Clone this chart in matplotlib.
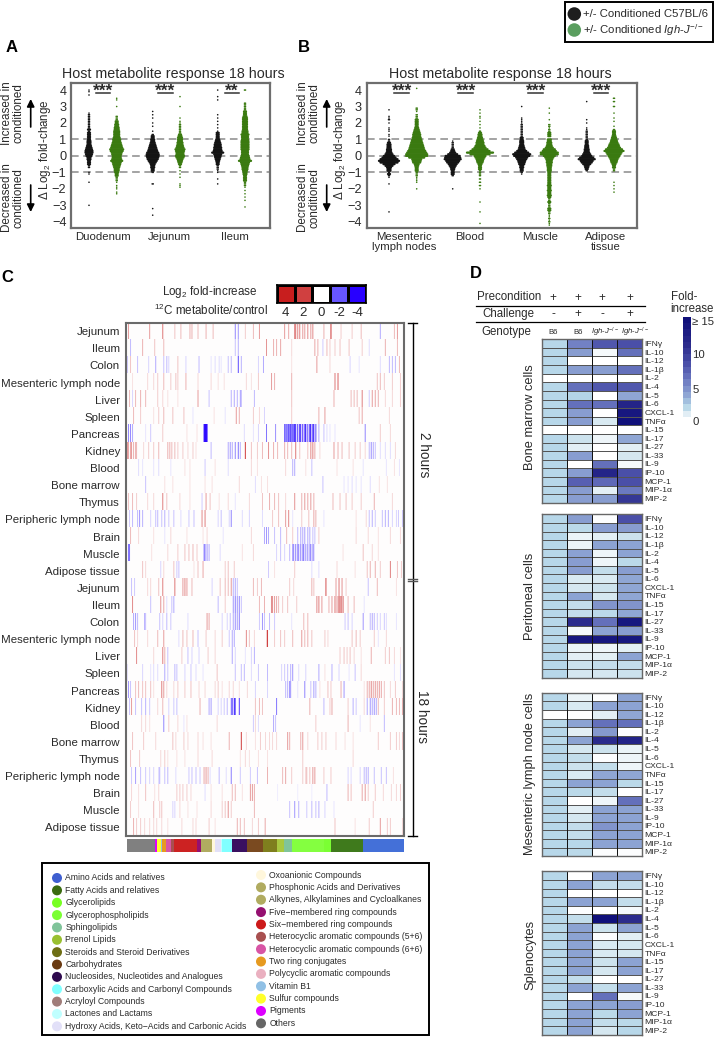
import numpy as np
import matplotlib
matplotlib.use("Agg")
import matplotlib.pyplot as plt
from matplotlib.colors import LinearSegmentedColormap, ListedColormap
from matplotlib.patches import Rectangle

plt.rcParams['font.family'] = ['Liberation Sans', 'DejaVu Sans']
plt.rcParams['mathtext.fontset'] = 'custom'
plt.rcParams['mathtext.rm'] = 'Liberation Sans'
plt.rcParams['mathtext.it'] = 'Liberation Sans:italic'
plt.rcParams['mathtext.bf'] = 'Liberation Sans:bold'
plt.rcParams['mathtext.default'] = 'regular'
plt.rcParams['axes.unicode_minus'] = True

W, H = 715, 1037
TXT = '#2a2a2a'

# ---- panels A and B: swarm rows, {log2 change: dots across} ----
duo_b6 = {4.0:1,3.9:1,3.7:1,2.6:1,2.5:2,2.4:2,2.3:2,2.2:2,2.1:2,2.0:2,1.9:2,1.8:2,1.7:2,1.6:3,1.5:2,1.4:3,1.3:3,1.2:3,1.1:3,1.0:3,.9:4,.8:4,.7:4,.6:5,.5:6,.4:7,.3:8,.2:8,.1:7,0:6,-.1:4,-.2:4,-.3:3,-.4:3,-.5:3,-.6:2,-.7:2,-1:1,-1.1:1,-1.6:1,-3:1}
duo_ko = {3.5:1,3.4:1,3.0:1,2.4:2,2.3:2,2.2:2,2.1:3,2.0:3,1.9:4,1.8:4,1.7:5,1.6:5,1.5:6,1.4:6,1.3:6,1.2:6,1.1:7,1.0:8,.9:8,.8:9,.7:10,.6:11,.5:12,.4:14,.3:13,.2:11,.1:10,0:9,-.1:9,-.2:10,-.3:12,-.4:9,-.5:8,-.6:7,-.7:6,-.8:5,-.9:5,-1:4,-1.1:3,-1.2:3,-1.3:2,-1.4:2,-1.5:2,-1.6:1,-1.8:1,-1.9:1,-2.0:1,-2.2:1,-2.3:1}
jej_b6 = {2.7:1,2.5:1,2.3:1,2.0:1,1.8:1,1.5:1,1.3:2,1.2:3,1.1:3,1:4,.9:4,.8:5,.7:6,.6:7,.5:8,.4:9,.3:10,.2:12,.1:13,0:13,-.1:12,-.2:11,-.3:9,-.4:7,-.5:5,-.6:4,-.7:4,-.8:3,-.9:3,-1:2,-1.7:2,-3.2:1,-3.6:1}
jej_ko = {3.6:1,3.0:1,2.3:1,2.1:1,2.0:1,1.9:2,1.8:2,1.7:2,1.6:2,1.5:2,1.4:2,1.3:3,1.2:4,1.1:5,1:5,.9:5,.8:6,.7:6,.6:7,.5:8,.4:10,.3:9,.2:8,.1:8,0:9,-.1:8,-.2:6,-.3:5,-.4:4,-.5:3,-.6:2,-.7:2,-.9:1,-1.1:1,-1.3:1,-1.7:1,-1.8:1,-1.9:1}
ile_b6 = {4.0:1,3.6:1,3.4:1,2.5:1,2.3:1,2.1:1,1.9:1,1.7:1,1.5:1,1.4:3,1.3:3,1.2:3,1.1:3,1:4,.9:5,.8:6,.7:7,.6:7,.5:8,.4:8,.3:9,.2:12,.1:8,0:7,-.1:6,-.2:5,-.3:4,-.4:3,-.5:3,-.6:2,-.7:2,-.8:2,-.9:1,-1:1,-1.4:1,-1.7:1}
ile_ko = {4:2,3.2:2,3.1:2,3:2,2.9:2,2.8:2,2.7:3,2.6:3,2.5:3,2.4:4,2.3:5,2.2:5,2.1:5,2:5,1.9:5,1.8:5,1.7:5,1.6:5,1.5:6,1.4:6,1.3:8,1.2:7,1.1:7,1:7,.9:8,.8:8,.7:8,.6:8,.5:8,.4:8,.3:7,.2:7,.1:7,0:8,-.1:9,-.2:10,-.3:13,-.4:9,-.5:8,-.6:7,-.7:6,-.8:6,-.9:5,-1:4,-1.1:4,-1.2:3,-1.3:3,-1.4:3,-1.5:3,-1.6:2,-1.7:2,-1.8:2,-1.9:1,-2.1:1,-2.3:1,-2.5:1,-2.7:1,-3.1:1}

mln_b6 = {2.8:1,2.4:1,2.3:1,2.2:2,2.0:1,1.7:1,1.6:1,1.5:1,1.3:1,1.2:1,1:2,.9:2,.8:3,.7:4,.6:4,.5:4,.4:5,.3:5,.2:6,.1:8,0:11,-.1:14,-.2:18,-.3:21,-.4:18,-.5:12,-.6:8,-.7:5,-.8:4,-.9:4,-1:2,-1.1:3,-1.2:2,-1.3:1,-1.7:1,-3.4:1}
mln_ko = {4.1:1,2.9:2,2.8:2,2.7:1,2.5:2,2.4:2,2.3:2,2.2:3,2.1:3,2.0:3,1.9:3,1.8:3,1.7:4,1.6:5,1.5:6,1.4:7,1.3:8,1.2:8,1.1:9,1:10,.9:11,.8:12,.7:13,.6:14,.5:15,.4:16,.3:18,.2:20,.1:22,0:22,-.1:16,-.2:10,-.3:9,-.4:8,-.5:5,-.6:4,-.7:3,-.8:3,-.9:3,-1:2,-1.1:2,-1.2:2,-1.3:1,-1.4:1,-1.5:1,-1.6:1,-2:1}
blood_b6 = {.9:1,.8:2,.7:2,.6:2,.5:2,.4:3,.3:4,.2:6,.1:10,0:15,-.1:16,-.2:17,-.3:14,-.4:12,-.5:9,-.6:7,-.7:5,-.8:4,-.9:3,-1:3,-1.1:3,-1.2:2,-2:1}
blood_ko = {2.8:1,2.6:1,2.4:1,2.3:1,2.1:1,1.9:1,1.7:1,1.5:2,1.4:3,1.3:4,1.2:4,1.1:5,1:6,.9:7,.8:8,.7:8,.6:10,.5:12,.4:16,.3:20,.2:27,.1:20,0:12,-.1:10,-.2:8,-.3:7,-.4:6,-.5:4,-.6:3,-.7:3,-.8:3,-.9:2,-1:2,-1.1:2,-1.2:2,-1.4:2,-1.6:2,-1.8:2,-2:1,-2.8:1,-3.4:1,-4.1:1}
musc_b6 = {3:1,2.3:1,2.2:1,2.1:1,2:1,1.9:2,1.8:2,1.7:2,1.6:2,1.5:2,1.4:2,1.3:2,1.2:2,1.1:3,1:3,.9:4,.8:4,.7:4,.6:5,.5:6,.4:7,.3:10,.2:14,.1:18,0:16,-.1:12,-.2:10,-.3:8,-.4:7,-.5:6,-.6:4,-.7:4,-.8:3,-.9:3,-1:2,-1.1:1}
musc_ko = {2.9:1,2.6:1,2.2:1,1.9:2,1.8:2,1.7:1,1.6:2,1.5:2,1.4:3,1.3:3,1.2:3,1:4,.9:4,.8:5,.7:5,.6:6,.5:8,.4:12,.3:14,.2:18,.1:18,0:12,-.1:9,-.2:7,-.3:6,-.4:6,-.5:5,-.6:5,-.7:4,-.8:4,-.9:4,-1:3,-1.1:3,-1.2:3,-1.3:3,-1.4:3,-1.5:3,-1.6:3,-1.7:3,-1.8:4,-1.9:3,-2:3,-2.1:4,-2.2:3,-2.3:3,-2.4:4,-2.5:3,-2.6:2,-2.7:2,-2.8:3,-2.9:2,-3:2,-3.1:2,-3.2:3,-3.3:3,-3.4:2,-3.5:2,-3.6:1,-3.7:1,-3.8:2,-3.9:1,-4:2,-4.1:1,-4.2:1}
adi_b6 = {3.3:1,2.2:1,2:1,1.7:1,1.6:1,1.5:2,1.4:2,1.3:2,1.2:2,1.1:2,1:2,.9:3,.8:3,.7:3,.6:4,.5:4,.4:5,.3:5,.2:6,.1:8,0:10,-.1:14,-.2:17,-.3:13,-.4:11,-.5:8,-.6:5,-.7:4,-.8:3,-.9:2}
adi_ko = {3.5:2,3.3:2,3:2,2.6:1,2.3:1,2.1:1,1.8:1,1.6:2,1.5:3,1.4:3,1.3:3,1.2:4,1.1:5,1:6,.9:7,.8:8,.7:10,.6:11,.5:13,.4:17,.3:20,.2:16,.1:14,0:12,-.1:10,-.2:8,-.3:7,-.4:6,-.5:4,-.6:3,-.7:3,-.8:2,-.9:2,-1.6:1,-1.8:1,-2:1,-2.2:1}

a_swarms = [duo_b6, duo_ko, jej_b6, jej_ko, ile_b6, ile_ko]
b_swarms = [mln_b6, mln_ko, blood_b6, blood_ko, musc_b6, musc_ko, adi_b6, adi_ko]
a_labels = ['Duodenum', 'Jejunum', 'Ileum']
b_labels = ['Mesenteric\nlymph nodes', 'Blood', 'Muscle', 'Adipose\ntissue']
a_stars = ['***', '***', '**']
b_stars = ['***', '***', '***', '***']

# ---- panel C: metabolite stripes, {column: log2 fold} ----
jejunum_2h = {2:1,23:1,36:1.4,48:.6,54:.7,63:.8,65:.8,71:.7,79:.8,86:.7,108:-1.4,111:-1.2,118:.5,126:.7,132:1,157:1,161:.9,167:1.4,168:1.2,170:1.2,172:1.3,175:1,177:1,180:1.2,183:1,185:1.2,196:.8,203:2.4,213:.5,224:.5,233:.7,252:-1,266:.7,269:1}
ileum_2h = {4:-.8,16:.8,28:.6,37:.7,108:-.7,111:-.9,139:1.1,146:.8,149:.8,153:.9,164:.4,187:.9,190:.8,195:-.6,199:.7,202:.5,207:.5,212:.6,221:.6,234:.5,241:-.4,257:.8,269:.7}
colon_2h = {1:-.6,4:.6,11:-.7,22:-.5,29:-1,37:-.7,40:-.8,42:-.5,51:.6,59:-.5,72:-.8,84:-.3,88:-.4,92:-.4,94:-.3,101:-.7,104:-.8,111:-2.2,114:-.9,131:-.5,136:-1,164:.3,189:1,202:.4,222:-.5,231:-.3,252:-.4,261:-.8,264:-.8,267:-.8,271:.7,276:-.7}
mln_2h = {6:.3,21:.4,27:.4,31:.5,37:.7,44:.5,49:.6,51:.5,59:.8,71:.4,84:.4,91:.3,97:.3,119:.4,124:.3,131:.5,144:1,147:.8,164:.8,207:1.4,210:1.6,249:.6,252:.7,256:.5,264:.5,272:.5}
liver_2h = {3:.7,6:-.5,9:.7,14:.8,19:.7,31:.5,36:.4,41:.3,51:.3,71:1,82:-.7,104:-.9,107:-1,110:-.9,113:-1,114:-.8,127:-.8,164:.6,206:.8,223:.7,226:.7,229:.7,234:1.3,241:-.6,244:1,247:.9,250:.8,257:.4,264:.4,272:.5}
spleen_2h = {7:.7,14:.5,27:.3,32:.5,37:.7,46:.6,57:.6,66:-.3,87:.3,98:-.3,109:1,112:.8,126:.5,132:.4,137:-.5,164:.5,191:.8,197:1,231:.6,234:.9,261:.4}
pancreas_2h = {2:-1.4,4:-1.4,6:-1,19:-.3,24:-.6,36:.5,60:.3,70:.3,77:-3.5,78:-3.8,79:-3.8,80:-3.5,117:-.4,126:-.3,131:-.5,139:-1.6,148:-1.3,157:-2,158:-1.3,159:-1.6,160:-1.3,161:-2.2,162:-1.4,163:-2.5,164:-1.4,165:-1.8,166:-1.6,167:-3,168:-2.2,170:-2.6,172:-3.2,173:-2,175:-3,177:-2.4,178:-3,180:-2.2,182:-3.2,183:-2.6,185:-3,186:-2.4,188:-2.2,191:-1,196:-.7,199:-.4,202:-.3,207:-.3,237:-1.4,252:.5,262:.4}
kidney_2h = {1:1,2:.9,4:.9,5:1,7:.8,9:.8,10:.7,17:.4,22:.5,27:.5,32:.7,41:.8,43:.8,45:.7,48:.7,51:.5,56:.5,61:.4,66:.5,69:.3,84:-.8,101:-1,103:-1.2,105:-1,108:-1.4,111:-1.6,113:-.9,118:2.2,124:.6,130:.5,135:.7,141:1.1,146:.8,150:.7,157:.8,160:.7,164:.7,168:1.4,172:.6,180:.6,183:1.2,185:1.3,187:.9,192:.4,206:1,210:.8,214:.7,221:.6,227:.5,232:.5,237:.4,241:-.8,243:-1.3,245:-1,247:-.7,252:-.4,257:-.4,262:-.4,267:.4}
blood_2h = {12:-.4,16:-.3,27:-.3,32:-.4,44:-.3,58:.3,63:.3,78:-.6,88:.3,101:-.4,124:.4,130:.3,158:.4,165:-.9,167:-1,178:.3,184:-.7,209:.3,225:.3,235:-.3,258:-.3,266:.3,271:-.3}
marrow_2h = {19:-.7,38:.3,46:.3,63:.3,78:.3,85:.3,112:.4,128:-.4,134:.3,140:.3,195:-.7,216:-.3,220:-.3,224:-.4,228:-.3,233:-.3,242:-.4,251:.3,259:.3}
thymus_2h = {2:.6,6:.7,10:.5,21:.4,27:.4,36:1.3,40:.6,53:.4,63:.3,75:-.6,79:1,83:.6,92:.3,101:.4,108:-.3,122:.4,135:.6,142:.8,147:.7,151:.6,158:.4,167:1.1,174:.8,177:1,180:.9,183:1,186:.8,205:.7,212:.6,218:.6,224:.5,233:.5,246:.8,264:.4}
periph_2h = {3:-.6,6:-.8,11:-.8,13:-1.2,16:-.9,24:-.5,29:-.7,31:-.8,35:-.7,38:-.9,42:-.6,47:-.7,54:-.4,62:-.6,67:-.7,75:1.2,78:1.3,91:-.5,94:-.7,102:-.5,104:-1.4,115:-.4,122:-.5,135:-.4,145:.5,151:.6,158:1,161:1.2,165:-.3,174:.5,181:.6,186:.9,188:.8,196:-.3,228:.3,238:.4,241:-.7,244:-.9,247:-.6,254:-.7,257:-.9,260:-.9,264:-.5,268:-.5,270:-.6,274:-.6,276:-.7}
brain_2h = {4:.7,12:.4,27:.3,38:-.3,44:.4,60:.3,76:.3,80:.4,96:-.3,124:.4,137:-1,139:-1.2,141:-1,147:-.7,153:-.8,159:.7,165:.5,170:-.8,173:-1,175:-1,177:-1.1,180:-1,182:-1,185:-.7,187:-.7,191:.5,228:.4,240:.4,250:.3,262:.4,272:.4}
muscle_2h = {2:-1.6,3:-1.6,25:.3,41:.4,51:.5,58:.6,62:.6,66:.7,70:.5,77:-1.4,78:-1.4,80:-1.2,82:-1,93:-.4,115:.3,126:.4,149:-.5,153:-.7,157:-.5,162:-.8,165:-1.2,166:-1.3,168:-1.5,170:-1.4,171:-1.2,173:-1.5,175:-1.3,176:-1.5,178:-1.3,180:-1.4,182:-1.1,183:-1.4,185:-1.2,186:-1,215:.3,235:.6,244:.4,250:.3}
adipose_2h = {16:.6,19:.4,34:-.5,37:.4,47:.6,50:-.6,52:-.7,67:.3,71:.6,76:.9,98:.5,101:.6,107:.5,141:-.6,147:.3,167:.5,184:-.4,191:-.4,209:.4,227:.3,239:.6,242:.8,247:.8,252:.5,262:1.3,269:.6,273:.5}

jejunum_18h = {5:-.7,8:-.6,21:.4,24:.4,32:.6,36:1.3,48:1.4,56:1,58:1.2,60:1,65:.7,85:-.5,93:.6,98:.7,101:.7,104:1,106:-.9,108:-1,110:-.7,126:.7,130:.5,134:.7,162:.5,166:.4,184:.8,186:.6,198:1.8,208:1,211:1.4,214:1.1,218:.5,240:-.7,249:.7,268:.3}
ileum_18h = {6:1.2,24:-.7,34:1.1,37:.9,40:-.4,45:-.7,47:-1,91:-.8,98:.5,106:-1.2,108:-1.5,110:-1.2,112:-1.4,114:-.7,132:.7,137:.8,144:1.2,145:1.1,147:1,149:.9,151:.7,155:.5,160:.6,169:.5,189:1.2,191:1.3,194:1,201:.8,204:1,207:1.4,209:1.1,211:2.6,213:2.6,215:1.6,220:.7,226:.7,236:-.3,276:-.5}
colon_18h = {7:-1,9:-1.2,11:-.8,18:-1,19:-.6,33:-.7,36:-.5,40:-.8,44:-.6,61:-.4,80:1,82:.9,95:-.5,100:-.5,103:-.7,106:-1,108:-1.3,110:-1.1,112:-1.5,132:-.6,135:-1.2,137:-.7,142:-.8,147:-.6,164:-.3,176:.7,180:.7,217:-.6,220:-.7,224:-.5,235:-1.2,242:-.8,244:-1,246:-.8,249:-.6,252:-.5,256:-.6,258:-.4,268:-.3}
mln_18h = {8:.6,11:.4,21:.4,31:.7,37:1,52:-.4,56:.7,60:.6,66:.7,71:-.7,79:.5,88:.4,95:.5,102:-.6,105:-1,107:-1,119:1.2,122:.6,127:.4,139:.5,140:2,147:.5,153:.6,157:.5,165:.7,174:1,177:.7,180:.8,184:.6,197:.5,200:.4,224:.6,228:.7,232:.5,246:.5,250:-.3,258:.4}
liver_18h = {10:1.2,27:.4,36:1.3,38:.8,41:-.7,55:.5,61:-.7,65:-.5,72:-.5,81:.5,88:.4,105:-1,108:-.5,118:-.3,124:-.5,127:-.9,212:.5,216:.6,219:.5,222:.6,226:.4,233:.3,243:.8,257:.5,261:.6,266:.4,272:.3}
spleen_18h = {1:-.3,16:-.5,24:-.3,27:-.4,31:-.4,38:-1,41:-.6,48:-.8,50:-.7,58:-.5,64:-.6,69:-.4,76:-.3,90:.6,108:-.7,114:-.7,117:-.8,124:-.4,131:-.6,140:-.8,154:-.5,157:-.6,160:-.7,163:-.9,165:-1.2,171:-.4,178:-.5,191:-1,197:.3,204:-.9,211:-.5,221:-.3,227:-.7,233:.4,266:-.3,272:-.4}
pancreas_18h = {2:-1.2,4:-.7,9:.6,12:.7,16:.6,19:.6,24:.6,27:.3,35:1.3,37:1,40:.4,47:.4,51:.5,58:.5,64:.6,72:.4,78:.4,88:.4,91:.5,95:.3,102:.4,106:.4,112:.3,120:.4,128:-.5,140:-.5,158:-.8,160:-.9,162:-1.4,163:-1,170:-.3,177:-1.4,183:-.7,186:-1.1,188:-.9,192:.3,200:.6,203:.5,213:.8,216:-1.2,236:.3,239:.8,241:.9,243:1.2,245:.9,247:1,249:.9,251:1,253:.9,256:.6,262:.4,267:.5,274:.4}
kidney_18h = {3:-.7,5:1,9:-.7,15:-.7,19:-.9,23:-.6,31:.4,36:.7,42:-.5,47:-.6,50:-.7,73:.8,82:-1,84:-1.1,91:-.5,94:-.5,97:-.6,100:-.8,104:-1.4,105:-2.2,107:-2.8,108:-2,112:-2.6,128:.6,132:.7,135:.6,149:-1.6,182:.8,196:-.8,202:.5,204:.9,220:.5,225:-.9,228:-.6,236:.4,239:-1,242:-1.2,244:-1,246:-1.2,248:-1,250:.7,256:.5,264:.8,268:.7,271:.7,274:.8}
blood_18h = {15:.4,19:.4,23:.3,37:-1.4,42:.5,51:.4,57:-.3,60:.3,90:.4,126:-.6,128:.4,131:-.4,146:-1,148:-.7,188:.5,220:.8,232:-.3,242:.3,256:-.8}
marrow_18h = {6:.6,17:.5,29:.4,46:.6,49:.4,57:.5,61:.4,71:.4,76:.3,84:.3,102:.8,114:2,119:.4,128:.3,133:.5,138:.4,142:.4,145:.4,149:.4,160:1,162:.8,173:.8,175:1,180:.4,190:.5,194:.5,198:.5,208:.4,217:.3,225:.3,250:.5,262:.5,268:.5,271:.4,274:.6}
thymus_18h = {4:.6,13:.5,34:.4,38:.5,41:.3,50:.3,58:.3,71:.4,85:.4,113:.3,118:.4,122:.3,131:.3,140:.3,175:.5,225:.4}
periph_18h = {5:-.6,9:-1.1,14:-.7,19:-.6,23:-.5,27:-.5,32:-.5,33:-.8,38:-.7,41:-.8,49:-.4,62:-.6,65:-.7,69:-.7,73:-.6,77:.9,79:1,81:.8,83:-.4,92:-.8,99:-.4,104:-1.5,113:-.6,123:-.6,130:-.7,140:.8,155:.7,158:.9,164:.5,175:.5,178:.5,179:.6,182:.6,185:1,187:1,196:.5,203:.5,220:-.5,223:-.4,232:-.5,236:-.8,238:-.9,240:-.9,246:-.7,253:-.7,258:-.7,265:.3}
brain_18h = {5:.4,12:.3,19:.6,28:.3,32:.4,50:.5,53:.5,56:.5,60:.5,64:.4,78:-.4,84:.3,95:.3,105:.7,108:.7,115:.3,123:1,125:1,127:.8,150:-.2,170:-.2,184:-.2,199:-.8,220:.8,223:.6,234:.9,237:1,240:.5,247:.5,255:.4,263:.4,268:.4,272:.5}
muscle_18h = {4:.5,12:.3,27:.7,33:.5,35:.6,46:-.5,48:-.5,53:.4,61:.3,70:.3,84:.4,95:.5,98:.6,101:1.1,104:.5,127:.7,162:-.7,167:-1.2,171:-.9,179:-.6,184:-.8,188:-.7,191:-.9,197:-.5,206:-.3,245:.5}
adipose_18h = {7:.8,10:.5,14:.5,18:.4,23:.4,27:.4,30:.4,35:.4,41:.3,55:.4,66:.4,69:.4,82:.5,88:.3,110:.8,113:.7,117:.6,125:.4,131:.5,137:.3,138:.6,207:.6,227:.3,241:.5,252:1,259:.5,262:.5,274:.4}

rows_2h = [jejunum_2h, ileum_2h, colon_2h, mln_2h, liver_2h, spleen_2h, pancreas_2h, kidney_2h, blood_2h, marrow_2h, thymus_2h, periph_2h, brain_2h, muscle_2h, adipose_2h]
rows_18h = [jejunum_18h, ileum_18h, colon_18h, mln_18h, liver_18h, spleen_18h, pancreas_18h, kidney_18h, blood_18h, marrow_18h, thymus_18h, periph_18h, brain_18h, muscle_18h, adipose_18h]
tissues = ['Jejunum', 'Ileum', 'Colon', 'Mesenteric lymph node', 'Liver', 'Spleen', 'Pancreas', 'Kidney', 'Blood', 'Bone marrow', 'Thymus', 'Peripheric lymph node', 'Brain', 'Muscle', 'Adipose tissue']
fold_ticks = [4, 2, 0, -2, -4]

# metabolite classes, both legend columns, plus their order in the strip
left_classes = ['Amino Acids and relatives', 'Fatty Acids and relatives', 'Glycerolipids', 'Glycerophospholipids', 'Sphingolipids', 'Prenol Lipids', 'Steroids and Steroid Derivatives', 'Carbohydrates', 'Nucleosides, Nucleotides and Analogues', 'Carboxylic Acids and Carbonyl Compounds', 'Acryloyl Compounds', 'Lactones and Lactams', 'Hydroxy Acids, Keto\u2212Acids and Carbonic Acids']
left_colors = ['#3f5fd0', '#3a6b10', '#77ff22', '#7bff33', '#80c49a', '#99c030', '#6e6e14', '#6a3a12', '#2f0a4f', '#80ffff', '#a07d7a', '#c0ffff', '#e2e0f8']
right_classes = ['Oxoanionic Compounds', 'Phosphonic Acids and Derivatives', 'Alkynes, Alkylamines and Cycloalkanes', 'Five\u2212membered ring compounds', 'Six\u2212membered ring compounds', 'Heterocyclic aromatic compounds (5+6)', 'Heterocyclic aromatic compounds (6+6)', 'Two ring conjugates', 'Polycyclic aromatic compounds', 'Vitamin B1', 'Sulfur compounds', 'Pigments', 'Others']
right_colors = ['#fff7dc', '#b0ab60', '#b0ab60', '#951070', '#cc1a1a', '#a85050', '#d855a5', '#e69a20', '#eab0c0', '#90c0e5', '#ffff2a', '#dd00ff', '#666666']
strip_colors = ['#808080', '#dd00ff', '#ffff2a', '#90c0e5', '#e69a20', '#d855a5', '#a85050', '#cc2222', '#951070', '#b0ab60', '#b0ab60', '#fff7dc', '#e2e0f8', '#c0ffff', '#80ffff', '#3a1060', '#7a4a20', '#7f7f1e', '#a8c840', '#80c49a', '#84ff40', '#7bff33', '#3f7a1c', '#4470d8']
strip_counts = [28, 2, 4, 1, 4, 5, 3, 23, 4, 6, 5, 3, 6, 1, 10, 15, 16, 14, 7, 8, 32, 7, 32, 41]

# ---- panel D: cytokine fold increase, columns B6-, B6+, Igh-, Igh+ ----
cytokines = ['IFN\u03b3', 'IL-10', 'IL-12', 'IL-1\u03b2', 'IL-2', 'IL-4', 'IL-5', 'IL-6', 'CXCL-1', 'TNF\u03b1', 'IL-15', 'IL-17', 'IL-27', 'IL-33', 'IL-9', 'IP-10', 'MCP-1', 'MIP-1\u03b1', 'MIP-2']
bone_marrow = [[1.1,5,7.5,8],[1.1,3.5,.2,6],[1.1,0,0,0],[1.1,3.5,3.5,6],[0,0,0,0],[1.1,6,7.5,7.5],[1.1,1.2,0,3],[1.1,6,6,12],[1.1,3.5,0,14],[1.1,3.5,.6,15],[0,0,0,0],[1.1,.8,.3,3],[1.1,.5,0,.5],[1.1,3.5,0,.7],[1.1,0,6,.2],[1.1,3.5,12,8],[1.1,7,6.5,8],[1.1,3.5,.5,5.5],[1.1,3.5,3.5,10]]
peritoneal = [[1.1,3.5,.1,8],[1.1,1,3.5,3.5],[1.1,.4,.5,.8],[1.1,.4,3.2,3.2],[1.1,3.3,.3,3.2],[1.1,3.5,.3,1],[1.1,3.5,.9,3.5],[1.1,.6,.6,3],[1.1,.7,.8,3],[1.1,3.2,.7,3],[1.1,.9,4,4],[1.1,.9,1,3],[1.1,11,6,14],[1.1,.2,3.2,3.5],[1.1,14,14,14],[1.1,.4,.3,.5],[1.1,.5,.5,3.2],[1.1,.8,.9,.9],[1.1,.7,.7,.8]]
mes_lymph = [[1.1,.4,.1,3.2],[1.1,.6,3.2,3.2],[0,0,.5,3],[1.1,3.2,6,6],[1.1,.5,3.7,0],[1.1,3.2,11,12],[1.1,.7,.8,.4],[1.1,.9,.1,.3],[1.1,.8,.9,.3],[1.1,.6,3,3],[1.1,3.2,3.2,1],[1.1,1,.9,0],[1.1,0,.3,6],[1.1,.5,3.2,3.2],[1.1,.7,3.2,3.2],[1.1,.9,4,3.2],[1.1,.9,3.2,3.2],[1.1,1.1,3.2,3.2],[1.1,1,.1,.1]]
splenocytes = [[1.1,0,3.2,3.2],[1.1,3.2,.9,.9],[1.1,0,0,0],[1.1,3.2,3.2,.9],[1.1,.1,0,.2],[1.1,.9,15,11],[1.1,3.2,.8,3.2],[1.1,3.2,.1,.5],[1.1,3.2,.6,.7],[1.1,3.2,.6,.7],[1.1,3.2,.8,3.2],[1.1,3.2,.7,3.2],[1.1,.9,0,0],[1.1,3.2,.9,3.2],[1.1,0,6,.2],[1.1,3.2,3.2,3.5],[1.1,3.2,1,3.2],[1.1,3.2,.9,1],[1.1,3.2,.7,1.1]]
d_panels = [bone_marrow, peritoneal, mes_lymph, splenocytes]
d_titles = ['Bone marrow cells', 'Peritoneal cells', 'Mesenteric lymph node cells', 'Splenocytes']
precondition = ['+', '+', '+', '+']
challenge = ['-', '+', '-', '+']
genotype = ['B6', 'B6', r'$\mathit{Igh}$-$\mathit{J}^{-/-}$', r'$\mathit{Igh}$-$\mathit{J}^{-/-}$']
fold_levels = [0, .5, 1, 2, 3, 4, 5, 6, 7, 8, 9, 10, 11, 12, 13, 14, 15]

fig = plt.figure(figsize=(W / 100, H / 100), dpi=100)


def px_axes(x0, y0, x1, y1, **kw):
    return fig.add_axes([x0 / W, 1 - y1 / H, (x1 - x0) / W, (y1 - y0) / H], **kw)


ink = px_axes(0, 0, W, H, zorder=5)
ink.set_xlim(0, W)
ink.set_ylim(H, 0)
ink.axis('off')
ink.patch.set_alpha(0)


def txt(x, y, s, size=8, **kw):
    kw.setdefault('color', TXT)
    kw.setdefault('va', 'center')
    kw.setdefault('ha', 'center')
    ink.text(x, y, s, fontsize=size, **kw)


def swarm_panel(x0, x1, centers, swarms, label_x, labels, star_x, bar_x, stars):
    ax = px_axes(x0, 83.3, x1, 227.7)
    ax.set_xlim(x0, x1)
    ax.set_ylim(-4.36, 4.41)
    for v in [-1, 0, 1]:
        ax.axhline(v, color='#8a8a8a', lw=1.1, dashes=(5, 3), zorder=1)
    for i, (cx, rows) in enumerate(zip(centers, swarms)):
        xs, ys, sizes = [], [], []
        for y, n in rows.items():
            for k in range(n):
                xs.append(cx + (k - (n - 1) / 2) * 1.0)
                ys.append(y)
                sizes.append(2.6 if n > 2 else 1.3)
        col = '#141414' if i % 2 == 0 else '#3a7a10'
        ax.scatter(xs, ys, s=sizes, color=col, marker='o', linewidths=0, zorder=3)
    for sp in ax.spines.values():
        sp.set_color('#6e6e6e')
        sp.set_linewidth(1.6)
    ax.set_xticks(label_x, labels, fontsize=8.2, color=TXT, linespacing=1.05)
    ax.set_yticks(range(-4, 5))
    ax.tick_params(axis='y', length=0, labelsize=9.2, labelcolor=TXT, pad=3.5)
    ax.tick_params(axis='x', length=0, pad=3)
    for sx, (b0, b1), s in zip(star_x, bar_x, stars):
        ax.plot([b0, b1], [3.82, 3.82], color='#333333', lw=1.1, zorder=4)
        ink.text(sx, 91, s, fontsize=12.5, ha='center', va='center', color=TXT, fontweight='bold')
    return ax


swarm_panel(71.3, 270, [89, 116.7, 152.7, 180, 217.7, 245], a_swarms, [103, 169, 235], a_labels,
            [102.7, 165, 231.7], [(96, 110), (158, 172.7), (225, 239)], a_stars)
swarm_panel(366.7, 636.7, [389, 416.7, 452.7, 480, 521.7, 549.3, 586.7, 614], b_swarms, [404, 470, 540, 606], b_labels,
            [401.7, 465.7, 535.7, 600.7], [(394, 409), (458, 473), (528, 543), (594, 608)], b_stars)

for tx, arrow_x, lab_x, ttl_x in [(13, 30.7, 45, 173), (309, 326.7, 340, 500)]:
    txt(ttl_x, 74, 'Host metabolite response 18 hours', 10.3)
    txt(tx, 113, 'Increased in\nconditioned', 8.4, rotation=90, linespacing=1.0)
    txt(tx, 198, 'Decreased in\nconditioned', 8.4, rotation=90, linespacing=1.0)
    txt(lab_x, 150, r'$\Delta$ Log$_2$ fold-change', 8.4, rotation=90)
    ink.annotate('', xy=(arrow_x, 99), xytext=(arrow_x, 127),
                 arrowprops=dict(arrowstyle='-|>', color='black', lw=1.2, mutation_scale=11, shrinkA=0, shrinkB=0))
    ink.annotate('', xy=(arrow_x, 212), xytext=(arrow_x, 185),
                 arrowprops=dict(arrowstyle='-|>', color='black', lw=1.2, mutation_scale=11, shrinkA=0, shrinkB=0))

for x, y, s in [(12, 48, 'A'), (303.5, 48, 'B'), (7, 277, 'C'), (476, 273, 'D')]:
    txt(x, y, s, 12, fontweight='bold', color='black')

# top legend
ink.add_patch(Rectangle((565, 1.7), 148.3, 40, fc='white', ec='black', lw=1.4))
ink.scatter([574.3, 574.3], [14, 30], s=95, color=['#1e1e1e', '#5a9e5f'], linewidths=0)
txt(583.3, 14, '+/- Conditioned C57BL/6', 8.2, ha='left')
txt(583.3, 30, r'+/- Conditioned $\mathit{Igh}$-$\mathit{J}^{-/-}$', 8.2, ha='left')

# panel C heatmap
n_cols = sum(strip_counts)
fold = np.zeros((len(rows_2h) + len(rows_18h), n_cols))
for r, row in enumerate(rows_2h + rows_18h):
    for c, v in row.items():
        fold[r, c] = v
fold_cmap = LinearSegmentedColormap.from_list('fold', [(0, '#2800ff'), (.25, '#6655ff'), (.5, '#ffffff'), (.75, '#d04040'), (1, '#c81e1e')])
axc = px_axes(125.5, 322.7, 404, 836)
# one image per tissue row, so the smoothing only runs along the row
for r in range(fold.shape[0]):
    axc.imshow(fold[[r]], aspect='auto', cmap=fold_cmap, vmin=-4, vmax=4, interpolation='bilinear',
               extent=(-.5, n_cols - .5, r + .5, r - .5))
axc.set_xlim(-.5, n_cols - .5)
axc.set_ylim(fold.shape[0] - .5, -.5)
axc.set_xticks([])
axc.set_yticks(range(30), tissues * 2, fontsize=8.25, color=TXT)
axc.tick_params(axis='y', length=0, pad=4)
for sp in axc.spines.values():
    sp.set_color('#6a6a6a')
    sp.set_linewidth(1.5)

class_index = np.repeat(np.arange(len(strip_counts)), strip_counts)
axs = px_axes(126.7, 839, 403.7, 852)
axs.imshow(class_index[None, :], aspect='auto', cmap=ListedColormap(strip_colors), interpolation='nearest')
axs.axis('off')

axk = px_axes(276.7, 285, 366, 303.3)
axk.pcolormesh(np.array(fold_ticks, float)[None, :], cmap=fold_cmap, vmin=-4, vmax=4, edgecolors='black', linewidth=1)
axk.set_xticks(np.arange(5) + .5, fold_ticks, fontsize=9.5, color=TXT)
axk.set_yticks([])
axk.tick_params(axis='x', length=0, pad=2.5)
for sp in axk.spines.values():
    sp.set_color('black')
    sp.set_linewidth(1.2)
txt(210, 292, r'Log$_2$ fold-increase', 8.4)
txt(210.7, 310, r'$^{12}$C metabolite/control', 8.4)

# time bracket
ink.plot([412.7, 412.7], [322.7, 836], color='black', lw=1)
for y in [322.7, 836]:
    ink.plot([408, 417], [y, y], color='black', lw=1)
for y in [578.8, 581.2]:
    ink.plot([408, 417], [y, y], color='#555555', lw=1)
txt(424, 455, '2 hours', 9.8, rotation=-90)
txt(422, 717, '18 hours', 9.8, rotation=-90)

# class legend
ink.add_patch(Rectangle((41.7, 863.3), 387.3, 172, fc='white', ec='black', lw=1.4))
for x, ytop, names, cols in [(57, 878, left_classes, left_colors), (261, 875, right_classes, right_colors)]:
    ys = ytop + np.arange(len(names)) * 12.36
    ink.scatter([x] * len(names), ys, s=52, color=cols, linewidths=0)
    for y, name in zip(ys, names):
        txt(x + 8.2, y, name, 6.25, ha='left', color='#2a2a2a')

# panel D
fold_inc = LinearSegmentedColormap.from_list('inc', [(0, '#ffffff'), (.4 / 15, '#e8f2f7'), (.8 / 15, '#c9e0ec'), (1.1 / 15, '#b4d6e8'), (3 / 15, '#8fa6d4'), (5.5 / 15, '#6b78c0'), (8 / 15, '#4a4fa8'), (11 / 15, '#2b2b8c'), (1, '#10107a')])
tops = [339.3, 514.3, 692.7, 871.3]
for top, vals in zip(tops, d_panels):
    axd = px_axes(542.3, top, 641.7, top + 163.4)
    axd.pcolormesh(np.array(vals), cmap=fold_inc, vmin=0, vmax=15, edgecolors='#555555', linewidth=0.5)
    axd.vlines([1, 2, 3], 0, len(vals), color='#111111', lw=0.7)
    axd.set_ylim(len(vals), 0)
    axd.set_xticks([])
    axd.yaxis.tick_right()
    axd.set_yticks(np.arange(len(vals)) + .5, cytokines, fontsize=6.1, color=TXT)
    axd.tick_params(axis='y', length=0, pad=2)
    for sp in axd.spines.values():
        sp.set_color('#666666')
        sp.set_linewidth(1)

for (x, y), s in zip([(530, 416.7), (530, 596), (530, 774), (530.7, 955)], d_titles):
    txt(x, y, s, 9.3, rotation=90)

txt(508.8, 297, 'Precondition', 8.3)
txt(508, 314, 'Challenge', 8.3)
txt(506.7, 331.5, 'Genotype', 8.3)
for x, p, c, g, gx in zip([553.3, 577.7, 602.3, 630], precondition, challenge, genotype, [553, 578, 605, 635]):
    txt(x, 298, p, 8.5)
    txt(x, 314.5, c, 8.5)
    txt(gx, 332.5, g, 5.6)
ink.plot([476, 645], [306, 306], color='black', lw=0.9)
ink.plot([476, 645], [322, 322], color='black', lw=0.9)

txt(670.7, 297, 'Fold-', 8.3, ha='left')
txt(670.7, 309.5, 'increase', 8.3, ha='left')
axb = px_axes(683, 317, 691, 423)
axb.imshow(np.array(fold_levels)[::-1, None], aspect='auto', cmap=fold_inc, vmin=0, vmax=15, interpolation='nearest')
axb.axis('off')
for y, s in [(322, '\u2265 15'), (355, '10'), (390, '5'), (422, '0')]:
    txt(692.5, y, s, 8.2, ha='left')

fig.savefig('out.png', dpi=100)
